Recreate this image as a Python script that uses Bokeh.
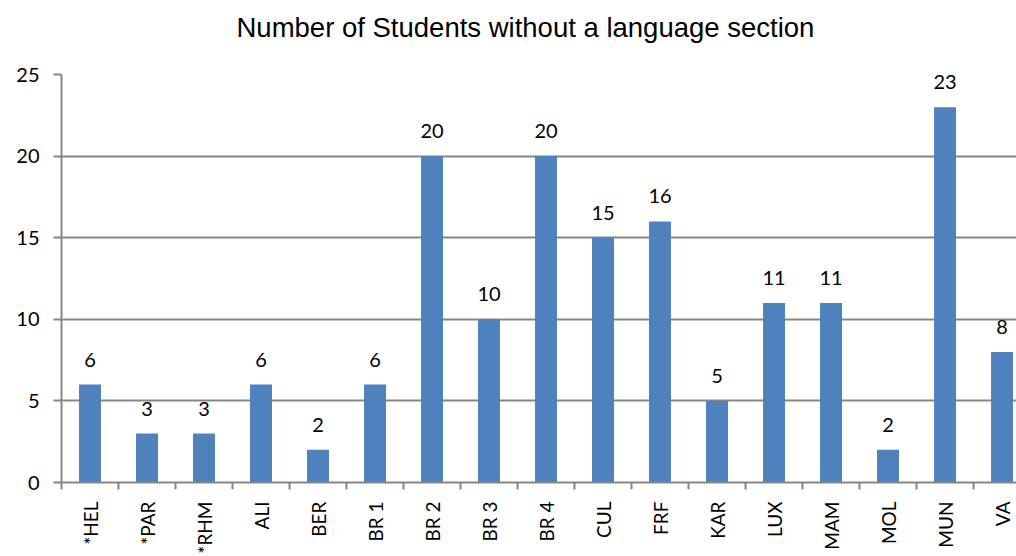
from bokeh.plotting import figure
from bokeh.models import ColumnDataSource, Range1d, FixedTicker, Title
from bokeh.embed import file_html
from bokeh.resources import INLINE
from bokeh.core.properties import value
import math

categories = ["*HEL", "*PAR", "*RHM", "ALI", "BER", "BR 1", "BR 2", "BR 3", "BR 4",
              "CUL", "FRF", "KAR", "LUX", "MAM", "MOL", "MUN", "VA"]
students = [6, 3, 3, 6, 2, 6, 20, 10, 20, 15, 16, 5, 11, 11, 2, 23, 8]
y_ticks = [0, 5, 10, 15, 20, 25]

centers = [i + 0.5 for i in range(len(categories))]
src = ColumnDataSource(dict(x=centers, y=students, lab=[str(v) for v in students]))

GRAY = "#868686"
p = figure(width=1016, height=556, output_backend="svg", toolbar_location=None,
           x_range=Range1d(0, 16.754), y_range=Range1d(0, 25),
           min_border_left=61, min_border_right=0, min_border_top=0,
           min_border_bottom=10, title=None)
p.outline_line_color = None
# spacer between title and frame
p.add_layout(Title(text=" ", text_font_size="1px", standoff=20), "above")
p.add_layout(Title(text="Number of Students without a language section", align="left",
                   text_font="Liberation Sans", text_font_size="27.5px",
                   text_font_style="normal", text_color="#000000", offset=175,
                   standoff=18), "above")

p.vbar(x="x", top="y", width=0.385, bottom=0, source=src, fill_color="#4F81BD",
       line_color=None)
p.text(x="x", y="y", text="lab", source=src, text_align="center", text_baseline="bottom",
       y_offset=-18, text_font=value("Lato"), text_font_size="20px", text_color="#000000")

# y axis
p.yaxis.ticker = FixedTicker(ticks=y_ticks)
p.yaxis.axis_line_color = GRAY
p.yaxis.axis_line_width = 2
p.yaxis.major_tick_line_color = GRAY
p.yaxis.major_tick_line_width = 2
p.yaxis.major_tick_out = 8
p.yaxis.major_tick_in = 0
p.yaxis.minor_tick_line_color = None
p.yaxis.major_label_standoff = 14
p.yaxis.major_label_text_font = "Lato"
p.yaxis.major_label_text_font_size = "20px"
p.yaxis.major_label_text_color = "#000000"

# x axis
p.xaxis.ticker = FixedTicker(ticks=centers, minor_ticks=list(range(len(categories) + 1)))
p.xaxis.major_label_overrides = {c: lab for c, lab in zip(centers, categories)}
p.xaxis.major_label_orientation = math.pi / 2
p.xaxis.axis_line_color = GRAY
p.xaxis.axis_line_width = 2
p.xaxis.major_tick_line_color = None
p.xaxis.major_tick_out = 0
p.xaxis.major_tick_in = 0
p.xaxis.minor_tick_line_color = GRAY
p.xaxis.minor_tick_line_width = 2
p.xaxis.minor_tick_out = 7
p.xaxis.minor_tick_in = 0
p.xaxis.major_label_standoff = 12
p.xaxis.major_label_text_font = "Lato"
p.xaxis.major_label_text_font_size = "19px"
p.xaxis.major_label_text_color = "#000000"

p.xgrid.grid_line_color = None
p.ygrid.grid_line_color = GRAY
p.ygrid.grid_line_width = 2

open("out.html", "w").write(file_html(p, INLINE))
